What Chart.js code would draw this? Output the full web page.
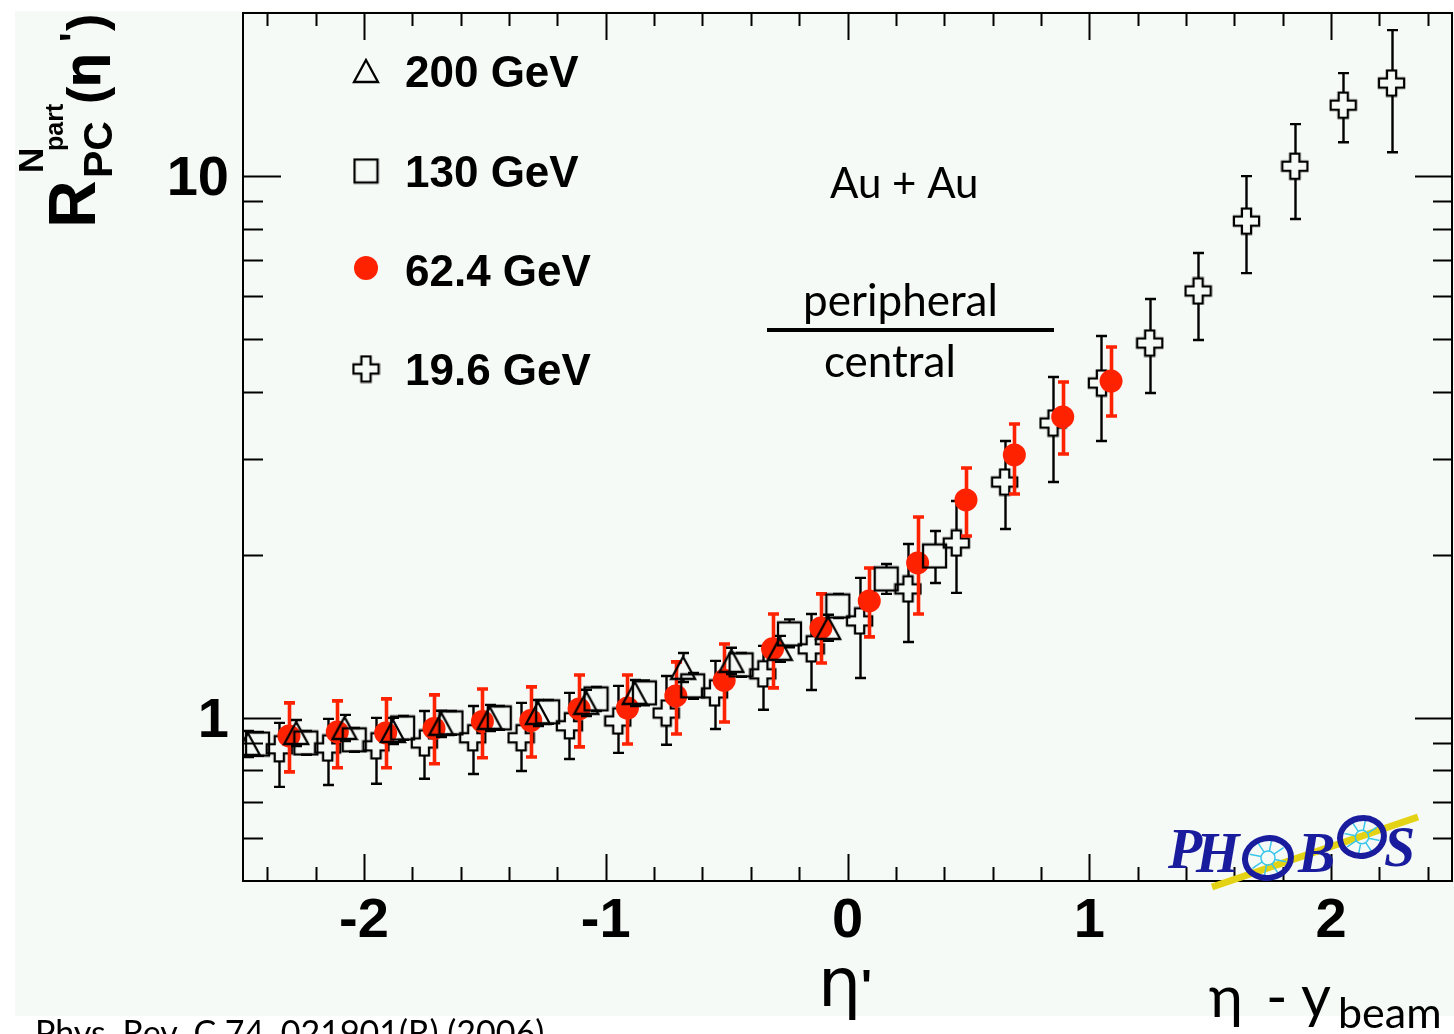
<!DOCTYPE html>
<html>
<head>
<meta charset="utf-8">
<title>R_PC vs eta'</title>
<script src="https://cdn.jsdelivr.net/npm/chart.js@4.4.1/dist/chart.umd.min.js"></script>
<style>
  html, body { margin: 0; padding: 0; background: #ffffff; }
  #wrap { position: relative; width: 1454px; height: 1034px; }
  canvas { display: block; }
</style>
</head>
<body>
<div id="wrap"><canvas id="c" width="1454" height="1034"></canvas></div>
<script>
// ---- series labels ----
const SERIES_LABELS = ['200 GeV', '130 GeV', '62.4 GeV', '19.6 GeV'];

// ---- 200 GeV (open triangles) ----
const X_200 = [-2.48, -2.28, -2.08, -1.88, -1.68, -1.48, -1.28, -1.08, -0.88, -0.68, -0.48, -0.28, -0.08];
const Y_200 = [0.895, 0.938, 0.958, 0.946, 0.975, 1.000, 1.021, 1.066, 1.112, 1.237, 1.274, 1.341, 1.466];
const HI_200 = [0.946, 0.991, 1.013, 1.000, 1.031, 1.057, 1.079, 1.127, 1.175, 1.318, 1.347, 1.417, 1.550];
const LO_200 = [0.847, 0.887, 0.906, 0.895, 0.922, 0.946, 0.966, 1.008, 1.052, 1.165, 1.205, 1.269, 1.387];

// ---- 130 GeV (open squares) ----
const X_130 = [-2.44, -2.24, -2.04, -1.84, -1.64, -1.44, -1.24, -1.04, -0.84, -0.64, -0.44, -0.24, -0.04, 0.16, 0.36];
const Y_130 = [0.895, 0.899, 0.911, 0.958, 0.979, 1.000, 1.026, 1.084, 1.112, 1.146, 1.253, 1.429, 1.609, 1.805, 1.990];
const HI_130 = [0.942, 0.946, 0.958, 1.008, 1.030, 1.052, 1.079, 1.140, 1.172, 1.211, 1.318, 1.520, 1.694, 1.923, 2.213];
const LO_130 = [0.851, 0.855, 0.866, 0.911, 0.931, 0.951, 0.975, 1.030, 1.055, 1.085, 1.191, 1.350, 1.529, 1.694, 1.774];

// ---- 62.4 GeV (filled red circles) ----
const X_62 = [-2.31, -2.11, -1.91, -1.71, -1.51, -1.31, -1.11, -0.91, -0.71, -0.51, -0.31, -0.11, 0.09, 0.29, 0.49, 0.69, 0.89, 1.09];
const Y_62 = [0.926, 0.942, 0.938, 0.956, 0.985, 0.989, 1.039, 1.043, 1.098, 1.173, 1.341, 1.466, 1.644, 1.932, 2.525, 3.057, 3.593, 4.186];
const HI_62 = [1.066, 1.075, 1.084, 1.103, 1.131, 1.141, 1.200, 1.200, 1.269, 1.369, 1.555, 1.694, 1.891, 2.349, 2.892, 3.486, 4.168, 4.836];
const LO_62 = [0.795, 0.809, 0.809, 0.823, 0.844, 0.847, 0.884, 0.895, 0.934, 0.983, 1.136, 1.263, 1.411, 1.555, 2.167, 2.590, 3.070, 3.608];

// ---- 19.6 GeV (open crosses) ----
const X_19 = [-2.35, -2.15, -1.95, -1.75, -1.55, -1.35, -1.15, -0.95, -0.75, -0.55, -0.35, -0.15, 0.05, 0.25, 0.45, 0.65, 0.85, 1.05, 1.25, 1.45, 1.65, 1.85, 2.05, 2.25];
const Y_19 = [0.877, 0.880, 0.888, 0.899, 0.919, 0.919, 0.967, 0.987, 1.021, 1.112, 1.206, 1.341, 1.510, 1.730, 2.103, 2.725, 3.501, 4.150, 4.919, 6.137, 8.260, 10.43, 13.52, 14.85];
const HI_19 = [0.979, 0.996, 1.000, 1.030, 1.052, 1.066, 1.112, 1.146, 1.195, 1.274, 1.358, 1.555, 1.813, 2.094, 2.514, 3.244, 4.257, 5.067, 5.931, 7.211, 10.00, 12.47, 15.49, 18.60];
const LO_19 = [0.746, 0.752, 0.756, 0.772, 0.788, 0.798, 0.840, 0.862, 0.892, 0.954, 1.035, 1.126, 1.185, 1.381, 1.701, 2.232, 2.725, 3.244, 3.978, 4.982, 6.622, 8.332, 11.55, 11.07];

// ---- axis tick labels ----
const X_TICKS = [-2, -1, 0, 1, 2];
const X_TICK_LABELS = ['-2', '-1', '0', '1', '2'];
const Y_TICKS = [1, 10];
const Y_TICK_LABELS = ['1', '10'];
const Y_MINOR = [0.6, 0.7, 0.8, 0.9, 2, 3, 4, 5, 6, 7, 8, 9];

const RED = '#ff2200';
const BG = '#f6faf7';
const LOGO_BLUE = '#1a1c9e';
const LOGO_CYAN = '#38c6ea';

// ---- ROOT-style open marker glyphs ----
function glyph(w, h, paint) {
  const c = document.createElement('canvas');
  c.width = w; c.height = h;
  const g = c.getContext('2d');
  g.strokeStyle = '#000'; g.lineWidth = 2.3; g.lineJoin = 'miter';
  paint(g, w, h);
  return c;
}
const TRIANGLE = glyph(28, 26, (g, w, h) => {
  g.beginPath(); g.moveTo(w / 2, 2); g.lineTo(w - 2, h - 2); g.lineTo(2, h - 2); g.closePath(); g.stroke();
});
const SQUARE = glyph(27, 27, (g, w, h) => {
  g.strokeRect(2, 2, w - 4, h - 4);
});
const PLUS = glyph(29, 29, (g, w, h) => {
  const c = w / 2, a = 4.6, L = 12.6;
  g.beginPath();
  g.moveTo(c - a, c - L); g.lineTo(c + a, c - L); g.lineTo(c + a, c - a); g.lineTo(c + L, c - a);
  g.lineTo(c + L, c + a); g.lineTo(c + a, c + a); g.lineTo(c + a, c + L); g.lineTo(c - a, c + L);
  g.lineTo(c - a, c + a); g.lineTo(c - L, c + a); g.lineTo(c - L, c - a); g.lineTo(c - a, c - a);
  g.closePath(); g.stroke();
});

// error bar settings per dataset (same order as datasets)
const ERRORS = [
  { lo: LO_200, hi: HI_200, color: '#000', width: 2.4, gap: 11, cap: 5.5 },
  { lo: LO_130, hi: HI_130, color: '#000', width: 2.4, gap: 12, cap: 5.5 },
  { lo: LO_62,  hi: HI_62,  color: RED,    width: 3.6, gap: 0,  cap: 5.5 },
  { lo: LO_19,  hi: HI_19,  color: '#000', width: 2.4, gap: 12.5, cap: 5.5 }
];

const pts = (xs, ys) => xs.map((x, i) => ({ x: x, y: ys[i] }));

// ---- background of the figure ----
const backdrop = {
  id: 'backdrop',
  beforeDraw(chart) {
    const ctx = chart.ctx;
    ctx.save();
    ctx.fillStyle = '#ffffff';
    ctx.fillRect(0, 0, chart.width, chart.height);
    ctx.fillStyle = BG;
    ctx.fillRect(15, 11, chart.width - 15, 1005);
    ctx.restore();
  }
};

// ---- frame, inward ticks on all four sides, tick labels ----
const frameAxes = {
  id: 'frameAxes',
  beforeDatasetsDraw(chart) {
    const { ctx, chartArea: a, scales: { x: xs, y: ys } } = chart;
    ctx.save();
    ctx.strokeStyle = '#000';
    ctx.lineWidth = 2;
    ctx.strokeRect(a.left, a.top, a.right - a.left, a.bottom - a.top);
    ctx.beginPath();
    // x ticks (major + minor every 0.2)
    for (let k = -12; k <= 12; k++) {
      const v = k / 5;
      const px = Math.round(xs.getPixelForValue(v)) + 0.5;
      const major = k % 5 === 0;
      const lb = major ? 27 : 14, lt = major ? 27 : 13;
      ctx.moveTo(px, a.bottom); ctx.lineTo(px, a.bottom - lb);
      ctx.moveTo(px, a.top); ctx.lineTo(px, a.top + lt);
    }
    // y ticks
    const yTick = (v, major) => {
      const py = Math.round(ys.getPixelForValue(v)) + 0.5;
      ctx.moveTo(a.left, py); ctx.lineTo(a.left + (major ? 38 : 20), py);
      ctx.moveTo(a.right, py); ctx.lineTo(a.right - (major ? 37 : 19), py);
    };
    Y_TICKS.forEach(v => yTick(v, true));
    Y_MINOR.forEach(v => yTick(v, false));
    ctx.stroke();

    // tick labels
    ctx.fillStyle = '#000';
    ctx.font = 'bold 56px "Liberation Sans", Arial, sans-serif';
    ctx.textAlign = 'center';
    ctx.textBaseline = 'alphabetic';
    X_TICKS.forEach((v, i) => {
      ctx.fillText(X_TICK_LABELS[i], xs.getPixelForValue(v), 937);
    });
    ctx.textAlign = 'right';
    Y_TICKS.forEach((v, i) => {
      ctx.fillText(Y_TICK_LABELS[i], 229, ys.getPixelForValue(v) + 19);
    });
    ctx.restore();
  }
};

// ---- asymmetric error bars, drawn just before each dataset's markers ----
const errorBars = {
  id: 'errorBars',
  beforeDatasetDraw(chart, args) {
    const e = ERRORS[args.index];
    if (!e) return;
    const { ctx, chartArea: a, scales: { y: ys } } = chart;
    ctx.save();
    ctx.beginPath();
    ctx.rect(a.left, a.top, a.right - a.left, a.bottom - a.top);
    ctx.clip();
    ctx.strokeStyle = e.color;
    ctx.lineWidth = e.width;
    ctx.lineCap = 'butt';
    ctx.beginPath();
    args.meta.data.forEach((p, i) => {
      const x = Math.round(p.x) + 0.5, y = p.y;
      const yHi = ys.getPixelForValue(e.hi[i]);
      const yLo = ys.getPixelForValue(e.lo[i]);
      if (y - e.gap > yHi) { ctx.moveTo(x, y - e.gap); ctx.lineTo(x, yHi); }
      if (y + e.gap < yLo) { ctx.moveTo(x, y + e.gap); ctx.lineTo(x, yLo); }
      ctx.moveTo(x - e.cap, yHi); ctx.lineTo(x + e.cap, yHi);
      ctx.moveTo(x - e.cap, yLo); ctx.lineTo(x + e.cap, yLo);
    });
    ctx.stroke();
    ctx.restore();
  }
};

// wheel-shaped "O" of the PHOBOS logo
function wheel(ctx, cx, cy, r) {
  ctx.save();
  ctx.strokeStyle = LOGO_CYAN;
  ctx.lineWidth = 1.5;
  ctx.beginPath();
  ctx.arc(cx, cy, r * 0.32, 0, Math.PI * 2);
  for (let k = 0; k < 8; k++) {
    const t = k * Math.PI / 4 + 0.2;
    ctx.moveTo(cx + Math.cos(t) * r * 0.32, cy + Math.sin(t) * r * 0.32);
    ctx.lineTo(cx + Math.cos(t) * r * 0.85, cy + Math.sin(t) * r * 0.85);
  }
  ctx.stroke();
  ctx.strokeStyle = LOGO_BLUE;
  ctx.lineWidth = 6;
  ctx.beginPath();
  ctx.ellipse(cx, cy, r * 1.05, r * 0.9, -0.2, 0, Math.PI * 2);
  ctx.stroke();
  ctx.restore();
}

// ---- titles, legend, annotations ----
const decorations = {
  id: 'decorations',
  afterDraw(chart) {
    const ctx = chart.ctx;
    ctx.save();
    ctx.fillStyle = '#000';
    ctx.textAlign = 'left';
    ctx.textBaseline = 'alphabetic';

    // legend
    const rows = [71, 171, 270, 369];
    const markers = [TRIANGLE, SQUARE, null, PLUS];
    rows.forEach((ry, i) => {
      if (markers[i]) {
        const m = markers[i];
        ctx.drawImage(m, 366 - m.width / 2, ry - m.height / 2);
      } else {
        ctx.fillStyle = RED;
        ctx.beginPath(); ctx.arc(366, ry - 2, 12, 0, Math.PI * 2); ctx.fill();
        ctx.fillStyle = '#000';
      }
      ctx.font = 'bold 44px "Liberation Sans", Arial, sans-serif';
      ctx.fillText(SERIES_LABELS[i], 405, ry + 16);
    });

    // annotations
    ctx.font = '42px Lato, "Open Sans", sans-serif';
    ctx.fillText('Au + Au', 830, 198);
    ctx.font = '44px Lato, "Open Sans", sans-serif';
    ctx.fillText('peripheral', 803, 316);
    ctx.fillText('central', 824, 377);
    ctx.fillRect(767, 328, 287, 4);

    // x axis title
    ctx.font = '68px "DejaVu Sans", sans-serif';
    ctx.fillText('\u03B7', 818, 1006);
    ctx.font = 'bold 46px "Liberation Sans", sans-serif';
    ctx.fillText("'", 861, 1002);

    // beam-rapidity shifted label
    ctx.font = '58px Lato, "DejaVu Sans", sans-serif';
    ctx.fillText('\u03B7', 1209, 1017);
    ctx.fillText('-', 1266, 1017);
    ctx.fillText('y', 1301, 1017);
    ctx.font = '43px Lato, "Open Sans", sans-serif';
    ctx.fillText('beam', 1338, 1028);

    // reference
    ctx.font = '34px Lato, "Open Sans", sans-serif';
    ctx.fillText('Phys. Rev. C 74, 021901(R) (2006)', 35, 1045);

    // y axis title, rotated to read bottom-to-top
    ctx.save();
    ctx.rotate(-Math.PI / 2);
    ctx.font = 'bold 66px "Liberation Sans", sans-serif';
    ctx.fillText('R', -228, 95);
    ctx.font = 'bold 41px "Liberation Sans", sans-serif';
    ctx.fillText('PC', -178, 112);
    ctx.font = 'bold 35px "Liberation Sans", sans-serif';
    ctx.fillText('N', -173, 43);
    ctx.font = 'bold 25px "Liberation Sans", sans-serif';
    ctx.fillText('part', -151, 63);
    ctx.font = 'bold 52px "Liberation Sans", sans-serif';
    ctx.fillText('(', -104, 104);
    ctx.font = 'bold 50px "DejaVu Sans", sans-serif';
    ctx.fillText('\u03B7', -88, 100);
    ctx.font = 'bold 40px "Liberation Sans", sans-serif';
    ctx.fillText("'", -42, 88);
    ctx.font = 'bold 52px "Liberation Sans", sans-serif';
    ctx.fillText(')', -31, 104);
    ctx.restore();

    // PHOBOS logo
    ctx.strokeStyle = '#e4d215';
    ctx.lineWidth = 7;
    ctx.beginPath(); ctx.moveTo(1212, 887); ctx.lineTo(1418, 817); ctx.stroke();
    ctx.fillStyle = LOGO_BLUE;
    ctx.font = 'italic bold 56px "Liberation Serif", serif';
    ctx.fillText('P', 1168, 868);
    ctx.fillText('H', 1196, 872);
    wheel(ctx, 1268, 858, 22);
    ctx.fillText('B', 1298, 872);
    wheel(ctx, 1362, 837, 21);
    ctx.fillText('S', 1384, 866);
    ctx.restore();
  }
};

const chart = new Chart(document.getElementById('c'), {
  type: 'scatter',
  data: {
    datasets: [
      { label: SERIES_LABELS[0], data: pts(X_200, Y_200), pointStyle: TRIANGLE, pointRadius: 13 },
      { label: SERIES_LABELS[1], data: pts(X_130, Y_130), pointStyle: SQUARE, pointRadius: 13 },
      { label: SERIES_LABELS[2], data: pts(X_62, Y_62), pointStyle: 'circle', pointRadius: 11.5,
        backgroundColor: RED, borderColor: RED, borderWidth: 0 },
      { label: SERIES_LABELS[3], data: pts(X_19, Y_19), pointStyle: PLUS, pointRadius: 13 }
    ]
  },
  options: {
    responsive: false,
    animation: false,
    events: [],
    devicePixelRatio: 1,
    layout: { autoPadding: false, padding: { left: 243, right: 2, top: 13, bottom: 153 } },
    scales: {
      x: { type: 'linear', min: -2.5, max: 2.5, display: false },
      y: { type: 'logarithmic', min: 0.5, max: 20, display: false }
    },
    plugins: { legend: { display: false }, tooltip: { enabled: false } }
  },
  plugins: [backdrop, frameAxes, errorBars, decorations]
});
</script>
</body>
</html>
